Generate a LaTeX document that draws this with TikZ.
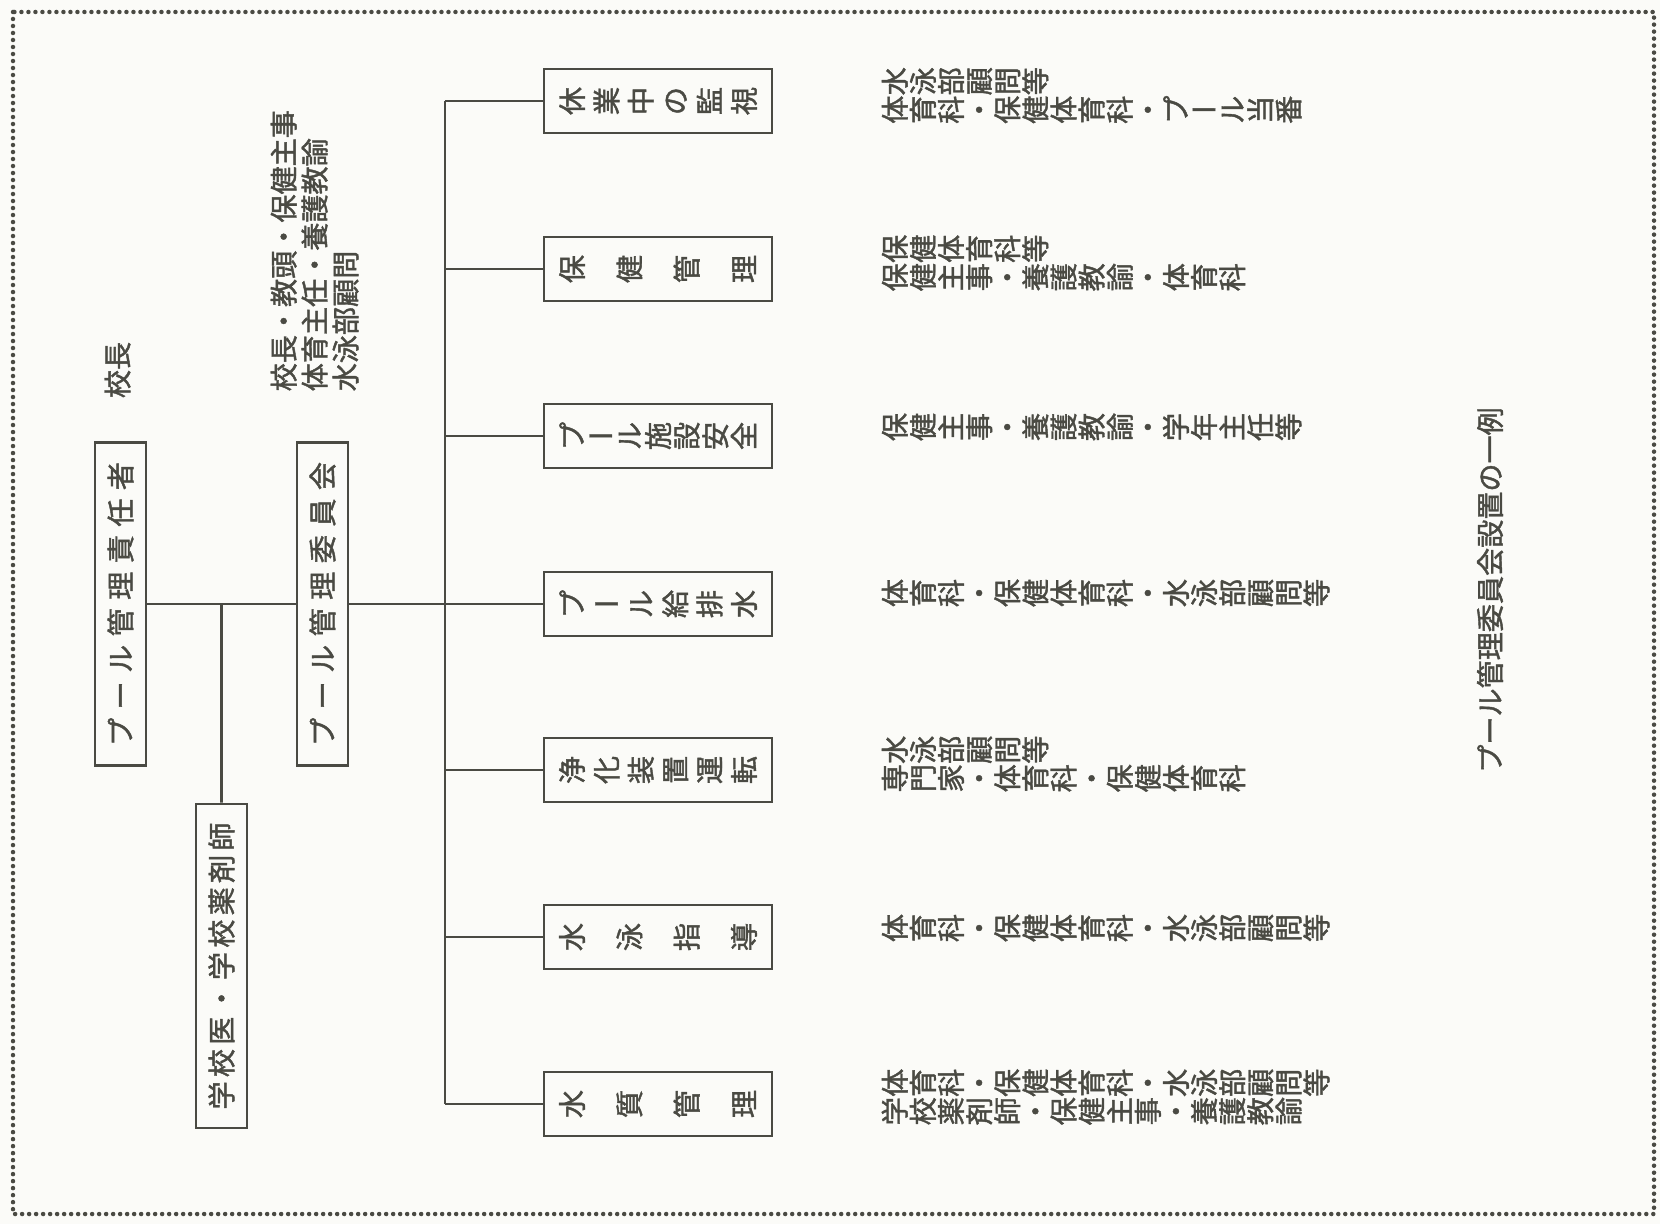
\documentclass[tikz,border=0pt]{standalone}
\usepackage{fontspec}
\setmainfont{Noto Sans CJK JP}[FakeBold=1.5]
\usepackage{graphicx}
\usetikzlibrary{calc}
\definecolor{cInk}{HTML}{4A4A43}
\definecolor{cPaper}{HTML}{FBFBF8}
\newcommand\jfont{\fontsize{8}{8.1}\selectfont}

\ExplSyntaxOn
\bool_new:N \l__pool_first_bool
% one glyph in a full em square, turned a quarter to the left
% (the long-vowel bar stays flat)
\NewDocumentCommand \turnchar { m }
  {
    \str_if_eq:nnTF {#1} {ー}
      { \makebox[1em]{#1} }
      { \rotatebox[origin=c]{90}{ \makebox[1em]{ \rule[-0.12em]{0pt}{1em} #1 } } }
  }
\NewDocumentCommand \turnline { m }
  { \tl_map_inline:nn {#1} { \turnchar{##1} } }
% glyphs spread evenly over a given width (starred: turned glyphs)
\NewDocumentCommand \spreadline { s m m }
  {
    \hbox_to_wd:nn {#2}
      {
        \bool_set_true:N \l__pool_first_bool
        \tl_map_inline:nn {#3}
          {
            \bool_if:NF \l__pool_first_bool { \hfill }
            \bool_set_false:N \l__pool_first_bool
            \IfBooleanTF {#1} { \turnchar{##1} } { ##1 }
          }
      }
  }
\ExplSyntaxOff

\tikzset{
  headbox/.style={
    draw=cInk, line width=0.75pt, rotate=90,
    minimum width=3.23cm, minimum height=0.51cm, inner sep=0pt,
    text=cInk, font=\jfont,
  },
  taskbox/.style={
    draw=cInk, line width=0.75pt,
    minimum width=2.28cm, minimum height=0.64cm, inner sep=0pt,
    text=cInk, font=\jfont,
  },
  memo/.style={anchor=west, inner sep=0pt, align=left, text=cInk, font=\jfont},
  link/.style={draw=cInk, line width=0.75pt},
}

\begin{document}
\begin{tikzpicture}
  \useasboundingbox (0,0) rectangle (16.6,-12.24);
  \fill[cPaper] (0,0) rectangle (16.6,-12.24);

  % dotted frame
  \draw[cInk, line width=0.045cm, line cap=round, dash pattern=on 0pt off 0.07cm]
    (0.13,-0.12) rectangle (16.54,-12.14);

  % left side
  \node[headbox] (chief) at (1.205,-6.04) {\spreadline{2.84cm}{プール管理責任者}};
  \node[headbox] (board) at (3.225,-6.04) {\spreadline{2.84cm}{プール管理委員会}};
  \node[headbox, minimum width=3.24cm] (doctor) at (2.215,-9.66) {\spreadline{2.87cm}{学校医・学校薬剤師}};

  \node[rotate=90, inner sep=0pt, text=cInk, font=\jfont] (chiefnote) at (1.175,-3.70) {校長};
  \node[rotate=90, anchor=north west, inner sep=0pt, align=left, text=cInk,
        font=\fontsize{8}{8.8}\selectfont] (boardnote) at (2.70,-3.92)
    {校長・教頭・保健主事\\体育主任・養護教諭\\水泳部顧問};

  % joints
  \coordinate (split) at ($(chief)!0.5!(board)$);
  \coordinate (trunk) at (4.45,-6.04);
  \draw[link] (chief) -- (board);
  \draw[link] (split) -- (doctor);
  \draw[link] (board) -- (trunk);

  % task boxes
  \node[taskbox] (watch) at (6.58,-1.01) {\spreadline*{2.0cm}{休業中の監視}};
  \node[taskbox] (health) at (6.58,-2.69) {\spreadline*{2.0cm}{保健管理}};
  \node[taskbox] (facility) at (6.58,-4.36) {\spreadline*{2.0cm}{プール施設安全}};
  \node[taskbox] (drain) at (6.58,-6.04) {\spreadline*{2.0cm}{プール給排水}};
  \node[taskbox] (filter) at (6.58,-7.70) {\spreadline*{2.0cm}{浄化装置運転}};
  \node[taskbox] (coach) at (6.58,-9.37) {\spreadline*{2.0cm}{水泳指導}};
  \node[taskbox] (water) at (6.58,-11.04) {\spreadline*{2.0cm}{水質管理}};

  \draw[link] (trunk |- watch) -- (trunk |- water);
  \foreach \t in {watch,health,facility,drain,filter,coach,water}
    \draw[link] (trunk |- \t) -- (\t);

  % who takes part
  \node[memo] (watchnote) at (8.80,-0.955) {\turnline{水泳部顧問等}\\\turnline{体育科・保健体育科・プール当番}};
  \node[memo] (healthnote) at (8.80,-2.63) {\turnline{保健体育科等}\\\turnline{保健主事・養護教諭・体育科}};
  \node[memo] (facilitynote) at (8.80,-4.27) {\turnline{保健主事・養護教諭・学年主任等}};
  \node[memo] (drainnote) at (8.80,-5.93) {\turnline{体育科・保健体育科・水泳部顧問等}};
  \node[memo] (filternote) at (8.80,-7.64) {\turnline{水泳部顧問等}\\\turnline{専門家・体育科・保健体育科}};
  \node[memo] (coachnote) at (8.80,-9.28) {\turnline{体育科・保健体育科・水泳部顧問等}};
  \node[memo] (waternote) at (8.80,-10.97) {\turnline{体育科・保健体育科・水泳部顧問等}\\\turnline{学校薬剤師・保健主事・養護教諭}};

  % caption
  \node[rotate=90, inner sep=0pt, text=cInk, font=\jfont] (caption) at (14.90,-5.90) {プール管理委員会設置の一例};
\end{tikzpicture}
\end{document}
